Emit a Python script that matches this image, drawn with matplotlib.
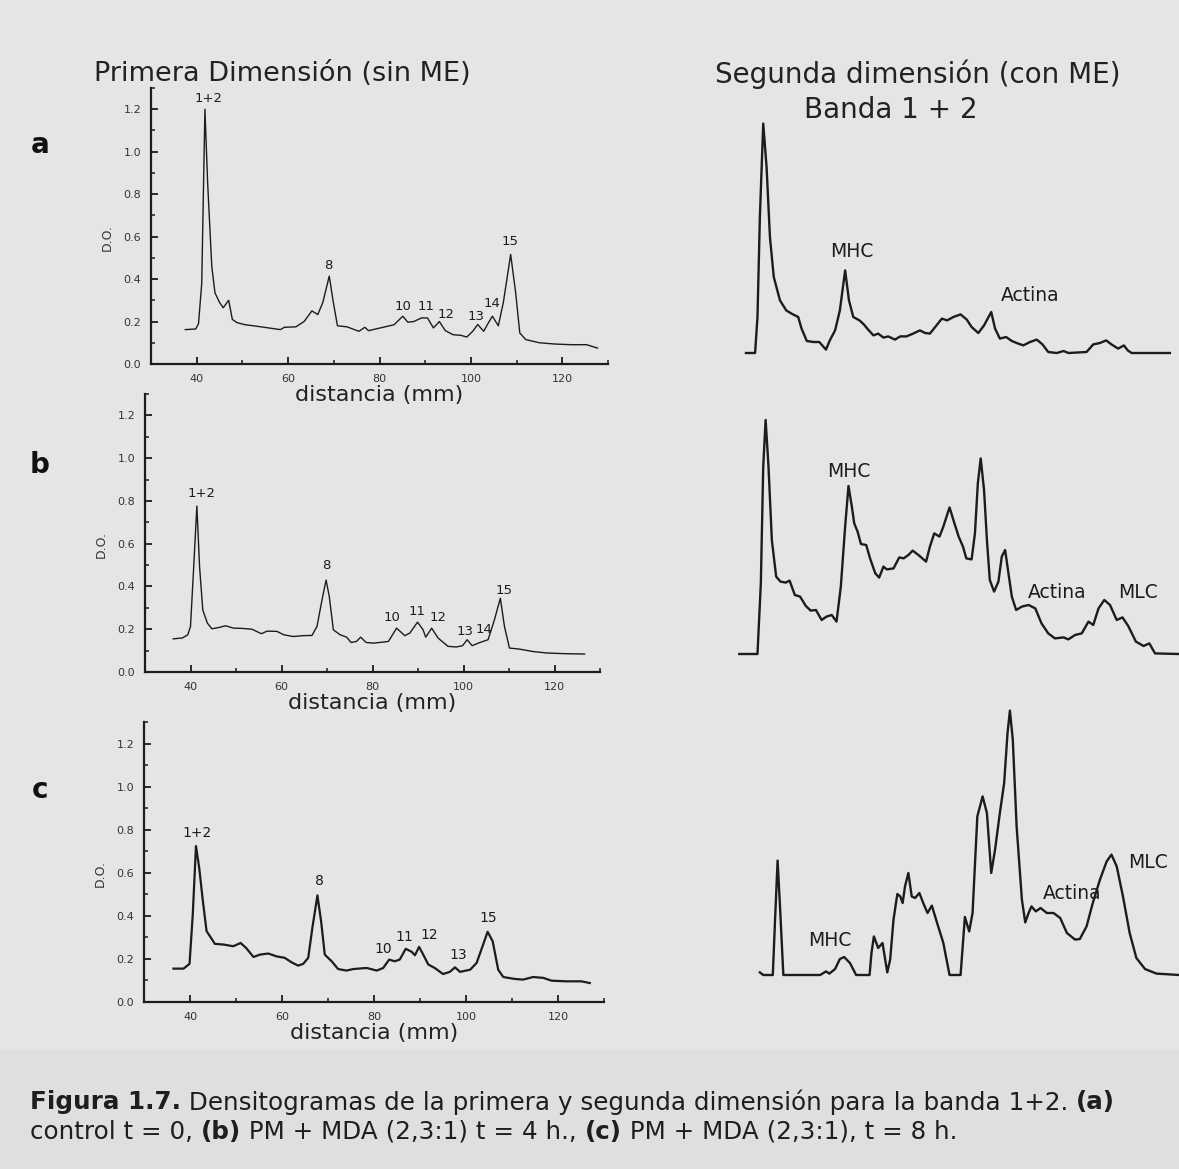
import matplotlib
matplotlib.use("Agg")
import matplotlib.pyplot as plt
from matplotlib.patches import Rectangle
from matplotlib.ticker import MultipleLocator, FormatStrFormatter

# ---------------- data: first dimension densitograms (distance mm, D.O.) ----------------
x_a = [37.5, 39.8, 40.4, 41.1, 41.8, 42.4, 43.3, 44.0, 45.0, 45.8, 47.0, 47.8, 48.8, 50.6, 53.1,
       55.7, 58.3, 59.2, 61.7, 63.5, 65.2, 66.5, 67.6, 69.0, 69.9, 70.8, 72.9, 75.5, 76.8, 77.6,
       80.2, 83.2, 85.1, 86.2, 87.5, 89.2, 90.5, 91.8, 93.1, 94.4, 96.1, 97.8, 99.1, 100.4, 101.5,
       102.8, 103.8, 104.7, 106.0, 107.1, 108.7, 109.8, 110.7, 112.0, 115.0, 118.4, 121.9, 125.3, 127.7]
y_a = [0.162, 0.165, 0.19, 0.38, 1.20, 0.85, 0.46, 0.335, 0.29, 0.265, 0.30, 0.21, 0.195, 0.185, 0.178,
       0.17, 0.162, 0.173, 0.175, 0.20, 0.25, 0.233, 0.29, 0.414, 0.29, 0.18, 0.175, 0.154, 0.173, 0.157,
       0.17, 0.185, 0.225, 0.197, 0.20, 0.217, 0.217, 0.17, 0.20, 0.157, 0.138, 0.135, 0.127, 0.154, 0.186,
       0.154, 0.193, 0.225, 0.18, 0.29, 0.516, 0.335, 0.146, 0.115, 0.10, 0.094, 0.091, 0.091, 0.075]

x_b = [36.2, 38.2, 39.4, 40.0, 40.7, 41.4, 42.0, 42.7, 43.7, 44.7, 46.2, 47.7, 49.5, 51.3, 53.5,
       55.6, 56.8, 59.0, 60.5, 62.6, 64.8, 66.7, 67.8, 68.9, 69.8, 70.5, 71.4, 72.9, 74.3, 75.3,
       76.5, 77.4, 78.6, 80.2, 82.4, 83.5, 85.3, 87.1, 88.2, 89.9, 91.1, 91.7, 93.0, 94.4, 96.6,
       98.4, 99.8, 100.8, 101.9, 103.6, 105.4, 106.8, 108.1, 109.0, 110.1, 112.3, 115.2, 118.2, 121.8, 126.6]
y_b = [0.155, 0.159, 0.174, 0.213, 0.49, 0.776, 0.49, 0.29, 0.229, 0.202, 0.208, 0.216, 0.205, 0.204, 0.20,
       0.179, 0.191, 0.19, 0.174, 0.166, 0.17, 0.171, 0.213, 0.337, 0.43, 0.353, 0.197, 0.174, 0.163, 0.138,
       0.143, 0.163, 0.138, 0.135, 0.14, 0.143, 0.205, 0.17, 0.182, 0.233, 0.198, 0.163, 0.205, 0.159, 0.12,
       0.117, 0.123, 0.151, 0.123, 0.138, 0.151, 0.244, 0.345, 0.213, 0.112, 0.107, 0.096, 0.089, 0.086, 0.084]

x_c = [36.4, 38.6, 39.9, 40.6, 41.3, 42.0, 42.8, 43.6, 44.5, 45.4, 47.2, 49.4, 51.0, 52.2, 53.8,
       55.2, 57.0, 58.8, 60.6, 62.1, 63.5, 64.6, 65.7, 66.6, 67.7, 68.5, 69.3, 70.8, 72.2, 74.0,
       75.5, 78.4, 80.6, 82.0, 83.3, 84.5, 85.6, 86.9, 88.2, 88.9, 89.8, 90.7, 91.8, 93.2, 95.0,
       96.5, 97.6, 98.7, 100.9, 102.3, 103.6, 104.7, 105.8, 107.0, 108.1, 110.6, 112.4, 114.6, 116.8,
       118.6, 121.8, 125.1, 126.9]
y_c = [0.155, 0.155, 0.177, 0.406, 0.724, 0.623, 0.468, 0.329, 0.30, 0.27, 0.267, 0.259, 0.274, 0.251, 0.209,
       0.22, 0.225, 0.212, 0.205, 0.184, 0.169, 0.177, 0.205, 0.344, 0.495, 0.375, 0.22, 0.189, 0.153, 0.146,
       0.153, 0.158, 0.146, 0.158, 0.197, 0.189, 0.197, 0.247, 0.233, 0.217, 0.256, 0.22, 0.174, 0.158, 0.13,
       0.14, 0.161, 0.14, 0.15, 0.181, 0.259, 0.326, 0.282, 0.15, 0.116, 0.107, 0.104, 0.116, 0.112,
       0.099, 0.096, 0.096, 0.088]

# band labels of the first dimension (label, distance, D.O.)
bands_a = ["1+2", "8", "10", "11", "12", "13", "14", "15"]
bx_a = [42.7, 68.8, 85.1, 90.1, 94.6, 101.1, 104.6, 108.6]
by_a = [1.25, 0.465, 0.27, 0.27, 0.235, 0.225, 0.285, 0.575]
bands_b = ["1+2", "8", "10", "11", "12", "13", "14", "15"]
bx_b = [42.4, 69.8, 84.3, 89.7, 94.4, 100.3, 104.4, 108.9]
by_b = [0.835, 0.50, 0.257, 0.283, 0.257, 0.19, 0.20, 0.38]
bands_c = ["1+2", "8", "10", "11", "12", "13", "15"]
bx_c = [41.6, 68.1, 82.0, 86.5, 92.0, 98.4, 104.9]
by_c = [0.786, 0.561, 0.248, 0.30, 0.313, 0.22, 0.388]

# ---------------- data: second dimension densitograms (relative position, absorbance) -------------
xr_a = [9.6, 11.5, 12.0, 12.5, 13.2, 13.9, 14.6, 15.4, 16.7, 18.0, 19.1, 20.5, 21.2, 22.3, 23.7,
        24.9, 26.3, 27.1, 28.2, 29.2, 30.3, 31.1, 32.0, 33.3, 34.2, 35.1, 36.2, 37.2, 38.3, 39.3,
        40.7, 41.8, 43.1, 44.5, 45.9, 47.0, 48.0, 49.1, 50.5, 51.6, 52.9, 54.4, 55.7, 56.7, 58.1,
        59.3, 60.8, 61.6, 62.6, 63.9, 65.1, 66.1, 67.5, 68.9, 70.3, 71.5, 72.7, 74.5, 75.9, 76.9,
        80.7, 82.1, 83.5, 84.8, 85.9, 87.3, 88.5, 89.3, 90.1, 98.1]
yr_a = [0, 0, 0.18, 0.68, 1.147, 0.93, 0.58, 0.38, 0.263, 0.213, 0.197, 0.18, 0.122, 0.06, 0.055,
        0.055, 0.017, 0.063, 0.113, 0.213, 0.413, 0.263, 0.18, 0.163, 0.143, 0.117, 0.088, 0.097, 0.077, 0.083,
        0.067, 0.083, 0.083, 0.097, 0.113, 0.10, 0.097, 0.13, 0.172, 0.163, 0.18, 0.193, 0.167, 0.13, 0.10,
        0.138, 0.205, 0.122, 0.072, 0.08, 0.06, 0.05, 0.038, 0.055, 0.067, 0.043, 0.005, 0, 0.01, 0,
        0.005, 0.043, 0.05, 0.063, 0.043, 0.022, 0.038, 0.013, 0, 0]

xr_b = [8.2, 12.0, 12.7, 13.2, 13.7, 14.3, 15.0, 15.9, 16.8, 17.9, 18.7, 19.8, 20.9, 22.1, 23.1,
        24.2, 25.4, 26.4, 27.5, 28.5, 29.4, 30.3, 31.0, 31.7, 32.2, 32.9, 33.6, 34.7, 35.5, 36.6,
        37.4, 38.3, 39.0, 40.4, 41.6, 42.5, 43.5, 44.4, 45.6, 47.2, 48.0, 48.9, 50.0, 50.8, 52.1,
        52.9, 54.0, 54.9, 55.6, 56.7, 57.4, 58.0, 58.6, 59.3, 59.9, 60.5, 61.4, 62.3, 63.0, 63.7,
        64.4, 65.1, 66.0, 67.2, 68.6, 70.0, 71.3, 72.7, 74.1, 75.9, 76.9, 78.3, 79.7, 81.1, 82.1,
        83.2, 84.4, 85.6, 87.0, 88.2, 89.4, 91.0, 92.6, 93.8, 95.0, 100.0]
yr_b = [0, 0, 0.353, 0.937, 1.17, 0.937, 0.57, 0.387, 0.362, 0.357, 0.367, 0.295, 0.287, 0.24, 0.217,
        0.22, 0.17, 0.187, 0.195, 0.162, 0.337, 0.637, 0.84, 0.737, 0.653, 0.612, 0.55, 0.545, 0.478, 0.403,
        0.382, 0.437, 0.423, 0.428, 0.483, 0.478, 0.495, 0.517, 0.495, 0.462, 0.537, 0.603, 0.587, 0.637, 0.733,
        0.67, 0.587, 0.537, 0.478, 0.473, 0.603, 0.853, 0.978, 0.82, 0.57, 0.37, 0.312, 0.362, 0.487, 0.52,
        0.403, 0.287, 0.22, 0.237, 0.245, 0.228, 0.153, 0.103, 0.078, 0.083, 0.073, 0.095, 0.103, 0.162, 0.145,
        0.228, 0.27, 0.245, 0.17, 0.183, 0.14, 0.062, 0.04, 0.053, 0.003, 0]

xr_c = [12.5, 13.2, 15.2, 15.7, 16.2, 16.7, 17.4, 25.1, 26.3, 27.0, 28.2, 29.2, 30.1, 31.3, 32.6,
        35.4, 35.8, 36.3, 37.2, 38.1, 39.1, 39.7, 40.4, 41.2, 41.8, 42.3, 42.8, 43.5, 44.2, 44.9,
        45.8, 46.6, 47.5, 48.4, 49.4, 50.8, 52.1, 54.4, 55.3, 56.2, 56.9, 57.9, 59.0, 59.9, 60.8,
        61.6, 62.6, 63.5, 64.2, 64.7, 65.3, 66.1, 67.2, 67.9, 68.6, 69.2, 70.1, 71.1, 72.4, 73.8,
        75.2, 76.6, 78.3, 79.3, 80.7, 82.0, 83.5, 84.9, 85.9, 87.0, 88.3, 89.7, 91.1, 92.9, 95.3, 100.0]
yr_c = [0.013, 0, 0, 0.293, 0.572, 0.343, 0, 0, 0.018, 0.007, 0.03, 0.08, 0.09, 0.06, 0,
        0, 0.11, 0.193, 0.135, 0.16, 0.013, 0.077, 0.277, 0.405, 0.393, 0.36, 0.443, 0.51, 0.393, 0.385,
        0.41, 0.36, 0.31, 0.347, 0.268, 0.16, 0, 0, 0.29, 0.218, 0.31, 0.793, 0.893, 0.81, 0.51,
        0.627, 0.81, 0.96, 1.21, 1.322, 1.177, 0.743, 0.377, 0.263, 0.31, 0.343, 0.318, 0.335, 0.31, 0.31,
        0.285, 0.21, 0.177, 0.18, 0.243, 0.36, 0.477, 0.568, 0.602, 0.543, 0.393, 0.21, 0.085, 0.03, 0.007, 0]

prot_a = ["MHC", "Actina"]
px_a = [31.7, 68.9]
py_a = [0.505, 0.288]
prot_b = ["MHC", "Actina", "MLC"]
px_b = [31.0, 74.5, 91.5]
py_b = [0.912, 0.307, 0.307]
prot_c = ["MHC", "Actina", "MLC"]
px_c = [27.1, 77.6, 93.6]
py_c = [0.173, 0.407, 0.565]

panel_letters = ["a", "b", "c"]

# ---------------- figure ----------------
W, H = 1179, 1169
fig = plt.figure(figsize=(W / 100, H / 100), dpi=100)
fig.patch.set_facecolor('#e7e4e5')
fig.patches.append(Rectangle((0, 0), 1, 1 - 1050 / H, transform=fig.transFigure,
                             facecolor='#e0dfdf', edgecolor='none', zorder=0))

FONT = 'DejaVu Sans'
INK = '#1c1c1c'


def fx(px):
    return px / W


def fy(py):
    return 1 - py / H


def left_panel(l, r, top, bottom, xs, ys, lw, names, lx, ly, lfs):
    ax = fig.add_axes([fx(l), fy(bottom), (r - l) / W, (bottom - top) / H])
    ax.set_facecolor('none')
    ax.plot(xs, ys, color=INK, lw=lw, solid_joinstyle='round')
    ax.set_xlim(30, 130)
    ax.set_ylim(0, 1.3)
    for s in ('top', 'right'):
        ax.spines[s].set_visible(False)
    for s in ('left', 'bottom'):
        ax.spines[s].set_linewidth(1.6)
        ax.spines[s].set_color(INK)
    ax.xaxis.set_major_locator(MultipleLocator(20))
    ax.xaxis.set_minor_locator(MultipleLocator(10))
    ax.yaxis.set_major_locator(MultipleLocator(0.2))
    ax.yaxis.set_minor_locator(MultipleLocator(0.1))
    ax.yaxis.set_major_formatter(FormatStrFormatter('%.1f'))
    ax.set_xticks([40, 60, 80, 100, 120])
    ax.tick_params(which='major', direction='in', length=5, width=1.3, labelsize=8,
                   pad=7, colors=INK, labelcolor='#333333')
    ax.tick_params(which='minor', direction='in', length=3, width=1.1, color=INK)
    ax.text(0.5, -31 / (bottom - top), 'distancia (mm)', transform=ax.transAxes,
            ha='center', va='center', fontsize=16, color='#222222', family=FONT)
    ax.text(-44 / (r - l), 0.46, 'D.O.', transform=ax.transAxes, rotation=90,
            ha='center', va='center', fontsize=9, color='#333333', family=FONT)
    for n, x, y in zip(names, lx, ly):
        ax.text(x, y, n, ha='center', va='center', fontsize=lfs, color=INK, family=FONT)
    return ax


def right_panel(baseline, xs, ys, names, lx, ly, aligns):
    ax = fig.add_axes([fx(700), fy(baseline + 10), 479 / W, 300 / H])
    ax.set_facecolor('none')
    ax.axis('off')
    ax.set_xlim(0, 100)
    ax.set_ylim(-0.05, 1.45)
    ax.plot(xs, ys, color=INK, lw=1.7, solid_joinstyle='round', clip_on=False)
    for n, x, y, a in zip(names, lx, ly, aligns):
        ax.text(x, y, n, ha=a, va='center', fontsize=13.5, color=INK, family=FONT)
    return ax


left_panel(151, 608, 88, 364, x_a, y_a, 1.0, bands_a, bx_a, by_a, 9.5)
left_panel(145, 600, 394, 672, x_b, y_b, 1.0, bands_b, bx_b, by_b, 9.5)
left_panel(144, 604, 722, 1002, x_c, y_c, 1.6, bands_c, bx_c, by_c, 10)

right_panel(353, xr_a, yr_a, prot_a, px_a, py_a, ['center', 'center'])
right_panel(654, xr_b, yr_b, prot_b, px_b, py_b, ['center', 'center', 'center'])
right_panel(975, xr_c, yr_c, prot_c, px_c, py_c, ['center', 'center', 'center'])

# headings
fig.text(fx(282), fy(74), 'Primera Dimensión (sin ME)', ha='center', va='center',
         fontsize=19.5, color='#222222', family=FONT)
fig.text(fx(918), fy(74), 'Segunda dimensión (con ME)', ha='center', va='center',
         fontsize=20, color='#222222', family=FONT)
fig.text(fx(891), fy(110), 'Banda 1 + 2', ha='center', va='center',
         fontsize=20, color='#222222', family=FONT)

for letter, py in zip(panel_letters, [145, 465, 790]):
    fig.text(fx(40), fy(py), letter, ha='center', va='center', fontsize=20,
             fontweight='bold', color='#111111', family=FONT)

# caption with mixed weights
fig.canvas.draw()
renderer = fig.canvas.get_renderer()

line1 = [("Figura 1.7.", True),
         (" Densitogramas de la primera y segunda dimensión para la banda 1+2. ", False),
         ("(a)", True)]
line2 = [("control t = 0, ", False), ("(b)", True), (" PM + MDA (2,3:1) t = 4 h., ", False),
         ("(c)", True), (" PM + MDA (2,3:1), t = 8 h.", False)]


def write_line(parts, x0, py, fs, draw=True):
    x = fx(x0)
    total = 0.0
    for txt, bold in parts:
        t = fig.text(x, fy(py), txt, ha='left', va='center', fontsize=fs,
                     fontweight='bold' if bold else 'normal', color='#1e1e1e', family=FONT)
        bb = t.get_window_extent(renderer=renderer)
        x += bb.width / W
        total += bb.width
        if not draw:
            t.remove()
    return total


w_ref = write_line(line1, 30, 1102, 10, draw=False)
cap_fs = 10 * 1085 / w_ref
write_line(line1, 30, 1102, cap_fs)
write_line(line2, 30, 1132, cap_fs)

fig.savefig('out.png', dpi=100, facecolor=fig.get_facecolor())
